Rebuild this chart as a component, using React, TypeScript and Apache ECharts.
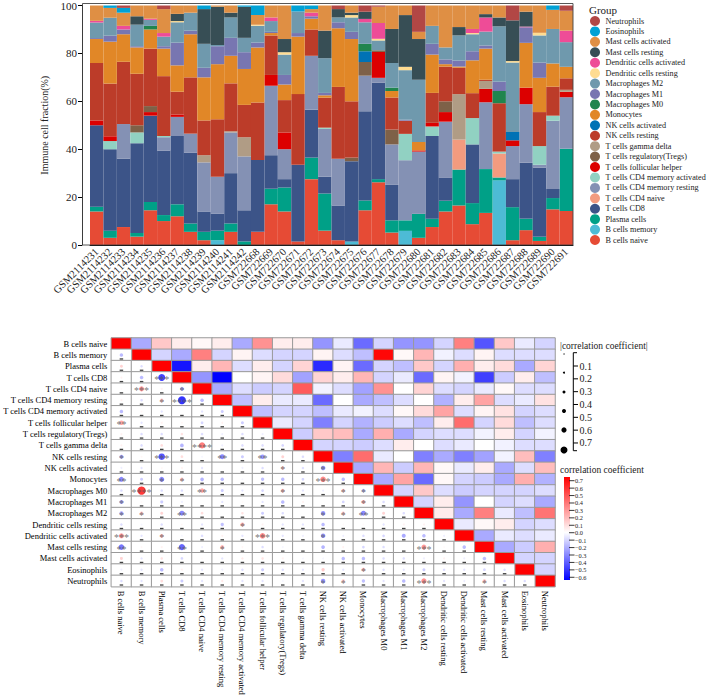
import React, { useEffect, useRef } from "react";
import * as echarts from "echarts";

const FONT = "'Liberation Serif', 'Times New Roman', serif";

const samples = [
  "GSM2114231", "GSM2114232", "GSM2114233", "GSM2114234", "GSM2114235", "GSM2114236",
  "GSM2114237", "GSM2114238", "GSM2114239", "GSM2114240", "GSM2114241", "GSM2114242",
  "GSM722668", "GSM722669", "GSM722670", "GSM722671", "GSM722672", "GSM722673",
  "GSM722674", "GSM722675", "GSM722676", "GSM722677", "GSM722678", "GSM722679",
  "GSM722680", "GSM722681", "GSM722682", "GSM722683", "GSM722684", "GSM722685",
  "GSM722686", "GSM722687", "GSM722688", "GSM722689", "GSM722690", "GSM722691",
];

const cellTypes = [
  "B cells naive", "B cells memory", "Plasma cells", "T cells CD8", "T cells CD4 naive",
  "T cells CD4 memory resting", "T cells CD4 memory activated", "T cells follicular helper",
  "T cells regulatory(Tregs)", "T cells gamma delta", "NK cells resting", "NK cells activated",
  "Monocytes", "Macrophages M0", "Macrophages M1", "Macrophages M2", "Dendritic cells resting",
  "Dendritic cells activated", "Mast cells resting", "Mast cells activated", "Eosinophils", "Neutrophils",
];

const cellColors = [
  "#E64B35", "#4DBBD5", "#00A087", "#3C5488", "#F39B7F", "#8491B4", "#91D1C2", "#DC0000",
  "#7E6148", "#B09C85", "#BC3C29", "#0072B5", "#E18727", "#20854E", "#7876B1", "#6F99AD",
  "#FFDC91", "#EE4C97", "#374E55", "#DF8F44", "#00A1D5", "#B24745",
];

// fractions (%) per sample, stack order bottom -> top
const bCellsNaive = [14, 3, 7.5, 3.5, 14.5, 10, 12, 5.5, 2, 0, 5.5, 0, 5.5, 17, 14, 1.5, 27.5, 6, 2, 0, 14.5, 26.2, 5.2, 0, 3, 7.5, 14, 16.5, 8.7, 13.4, 0, 2, 6.2, 1.7, 14.9, 14.2];
const bCellsMemory = [0, 0, 0, 0, 0, 0, 0, 0, 0, 2, 0, 0, 0, 0, 0, 0, 0, 0, 0, 1.5, 0, 0, 0, 5.9, 0, 0, 0, 0, 0, 0, 27, 0, 0, 0, 0, 0];
const plasmaCells = [2, 3, 0, 1.5, 3.5, 2.5, 5, 3.5, 3.5, 4, 3.5, 1.5, 0, 6.5, 10, 0, 9, 15.5, 0, 0, 4.1, 1.3, 5.1, 4.4, 10, 3.5, 4.5, 15, 8.8, 18.3, 1.2, 13.8, 4.8, 1.7, 4.7, 26];
const tCellsCD8 = [34, 34, 28.5, 37.5, 36, 27, 28.5, 29.5, 8.5, 7, 21, 13, 30, 14, 3.5, 32, 20, 7, 14.5, 33.5, 37.2, 40.4, 14.8, 0, 0, 34.5, 9.5, 0, 24.5, 0, 0, 11.7, 23.4, 29, 3.8, 0];
const tCellsCD4Naive = [0, 0, 0, 0, 0, 0, 0, 0, 0, 0, 0, 0, 0, 0, 0, 0, 0, 0, 0, 0, 0, 0, 0, 0, 0, 0, 0, 12.5, 0, 0, 10, 0, 0, 0, 0, 0];
const tCellsCD4MemRest = [0, 0, 14.5, 0, 0, 5.5, 8, 8, 20.5, 15.5, 17, 22.5, 0, 29, 12.5, 0, 22.5, 20, 19.5, 0, 14.9, 1.9, 16.9, 25.1, 26, 0, 23.5, 0, 0, 27.9, 0, 13.8, 24.4, 1.1, 28.5, 21.5];
const tCellsCD4MemAct = [0, 3.4, 0, 4.5, 0, 0.5, 0, 0, 0, 0, 0, 0, 0, 0, 0, 0, 0, 0.5, 0, 0, 0, 0, 0, 11, 0, 4, 0, 0, 11, 0, 0.8, 0, 0, 7.8, 2.1, 0];
const tCellsFollicular = [2, 2, 0, 0, 1.5, 0, 1, 0, 0, 0, 0, 0, 0, 4.5, 7, 0, 0, 0, 0, 0, 0, 10.8, 0, 0, 0.5, 1.5, 4, 0, 0, 5.6, 0, 2.4, 6.9, 0, 0, 2.3];
const tCellsTregs = [0, 0, 0, 3, 2.5, 0, 0, 0, 0, 0, 0, 0, 0, 0, 0, 0, 0, 0, 0, 1.5, 5.7, 0.7, 6.2, 0, 0, 0, 4.5, 0, 0, 0, 0, 0, 0, 0, 0, 0];
const tCellsGammaDelta = [0, 0, 0, 0, 0, 0, 0, 0, 3, 0, 0.5, 8, 0, 0, 0, 0, 0, 0, 0, 0, 0, 0, 0, 0, 0, 0, 0, 19, 0, 3.3, 0, 0, 0, 0, 0, 0.8];
const nkResting = [24, 22, 26, 21.5, 24, 25, 9.5, 23.5, 14.5, 24, 20, 13.5, 24, 16.5, 13.5, 29.5, 11, 12.5, 30, 23.5, 0, 0, 13.4, 5.5, 0, 12.5, 14.5, 11, 10.4, 0.5, 20.2, 0, 0, 14.2, 12.1, 4.8];
const nkActivated = [0, 0, 0, 0, 0, 0, 0, 0, 0, 0, 0, 0, 0, 0, 0, 0, 0, 0, 0, 0, 4.5, 0, 0, 0, 0, 0, 0, 0, 0, 0, 0, 3.5, 0, 0, 0, 0];
const monocytes = [10, 17.5, 11.5, 11, 8, 11.5, 11, 18, 18, 23, 11.5, 15, 23, 1, 6.5, 24, 4.5, 1, 24.5, 26, 0, 0, 2.7, 0, 3.5, 16, 1, 0.5, 13.7, 13, 0, 0, 18.7, 14.3, 9.7, 4.8];
const macrophagesM0 = [0, 0, 0, 0, 1.5, 0, 0, 0, 0, 0, 0, 0, 0, 0, 0, 0, 0, 0, 0, 0, 3.1, 0, 1.4, 0, 0, 0, 0, 0, 0, 0, 5.1, 0, 0, 0, 0, 0];
const macrophagesM1 = [0.4, 2.5, 2, 0.5, 0, 1, 9.5, 1.5, 4, 7.5, 7.5, 7, 2, 0.5, 4, 1.5, 1, 1, 2.5, 3, 0, 0, 0, 0.4, 0, 4.5, 2, 2.5, 3.8, 1.3, 3.9, 0, 6.5, 6.4, 0, 0];
const macrophagesM2 = [6.5, 7.5, 0, 9, 2.5, 4, 8.5, 7.5, 10, 0.5, 8.5, 6, 7, 4.5, 8.5, 9, 0, 14.5, 2, 6, 9, 4.1, 10.3, 20.7, 26, 7.5, 5, 10.5, 7.1, 5.8, 23.1, 29, 0, 11.3, 14.4, 10.3];
const dendriticResting = [0, 0, 0, 0, 0, 0, 0.5, 0, 0, 0, 0, 0, 0.5, 0, 1, 0, 0, 0, 0, 1, 0, 0.7, 0, 1.4, 0, 0, 0, 0, 0.5, 0, 0, 0.6, 0, 1.1, 0, 0];
const dendriticActivated = [0.7, 0, 1.5, 0, 0.5, 1.5, 0, 0, 0, 0, 0, 0, 0, 1.5, 0, 0, 1.5, 0, 0, 0, 1.4, 6.6, 0, 0, 0, 0, 0, 0, 1.7, 5.9, 0, 0, 0.3, 0, 0, 4.8];
const mastResting = [0, 0, 0, 3.5, 0, 0, 3, 0, 14.5, 16, 2, 13, 0, 0, 5.5, 0, 0, 11.5, 3.5, 1, 3, 0, 14.2, 21.6, 17, 0, 0, 3.5, 0, 1.4, 3.7, 17, 6.2, 0, 0, 0];
const mastActivated = [6.4, 4.1, 5.5, 4.5, 5.5, 10, 3.5, 3, 0, 0.5, 3, 0, 4, 5, 14, 0, 1.5, 10.5, 0, 3, 0, 6.8, 9.8, 4, 3, 8.5, 17.5, 9, 9.8, 3.6, 5, 0, 2.6, 11.4, 8, 8.3];
const eosinophils = [0, 1, 2, 0, 0, 0, 0, 0, 1.5, 0, 0, 0.5, 4, 0, 0, 2.5, 1.5, 0, 0, 0, 0, 0, 0, 0, 0, 0, 0, 0, 0, 0, 0, 0, 0, 0, 1.8, 0];
const neutrophils = [0, 0, 1, 0, 0, 1.5, 0, 0, 0, 0, 0, 0, 0, 0, 0, 0, 0, 0, 1.5, 0, 2.6, 0.5, 0, 0, 11, 0, 0, 0, 0, 0, 0, 6.2, 0, 0, 0, 2.2];

const fractions = [
  bCellsNaive, bCellsMemory, plasmaCells, tCellsCD8, tCellsCD4Naive, tCellsCD4MemRest,
  tCellsCD4MemAct, tCellsFollicular, tCellsTregs, tCellsGammaDelta, nkResting, nkActivated,
  monocytes, macrophagesM0, macrophagesM1, macrophagesM2, dendriticResting, dendriticActivated,
  mastResting, mastActivated, eosinophils, neutrophils,
];

// correlation, upper triangle: row i holds columns i+1 .. 21
const corrUpperRows = [
  [-0.2, 0.15, 0.05, 0.02, 0.05, -0.2, 0.3, 0.05, 0.05, -0.25, -0.05, -0.35, -0.1, -0.25, -0.25, -0.1, 0.35, -0.4, 0.15, -0.05, -0.1],
  [-0.1, -0.2, 0.35, -0.1, 0.03, -0.08, -0.1, -0.1, 0.03, -0.08, -0.15, 0.68, 0.02, 0.2, -0.03, -0.08, 0.03, -0.08, -0.08, -0.08],
  [-0.55, 0.05, 0.2, -0.08, 0.05, -0.1, 0.12, -0.5, 0.03, -0.35, -0.1, -0.15, 0.15, -0.1, 0.22, 0.05, 0.1, -0.2, 0.12],
  [-0.25, -0.65, 0, 0.03, 0.1, -0.22, 0.12, 0.05, 0.2, -0.1, -0.05, -0.35, 0.03, -0.03, -0.45, -0.12, 0.05, -0.15],
  [-0.2, -0.08, -0.12, -0.1, 0.45, -0.03, -0.08, -0.22, 0.3, 0, 0.12, -0.08, -0.1, -0.05, 0.02, -0.08, -0.08],
  [-0.15, 0.05, -0.05, -0.05, -0.35, 0, -0.2, -0.15, -0.08, 0, -0.18, 0.05, 0.25, -0.08, -0.05, 0.08],
  [-0.15, -0.1, -0.1, -0.15, -0.05, -0.03, -0.08, 0.02, 0.1, 0.25, -0.08, 0.03, 0.08, -0.1, -0.08],
  [-0.05, -0.1, -0.3, -0.1, -0.18, -0.12, -0.08, -0.15, 0.05, 0.4, -0.1, 0.1, -0.15, -0.08],
  [-0.12, 0.15, 0.18, -0.2, 0.22, -0.2, -0.1, -0.08, -0.08, -0.03, 0.05, -0.1, -0.03],
  [-0.1, -0.1, -0.12, -0.08, 0.05, 0, -0.08, -0.05, 0, -0.03, -0.08, -0.08],
  [-0.3, 0.4, -0.05, 0, -0.3, -0.2, -0.3, -0.22, -0.03, 0.18, -0.3],
  [-0.2, 0.2, -0.12, 0.2, 0.02, -0.05, 0.05, -0.2, -0.08, 0.18],
  [-0.2, 0.25, -0.35, 0.02, -0.1, -0.12, -0.2, 0.22, -0.18],
  [-0.1, 0.15, -0.08, -0.12, -0.1, -0.1, -0.1, -0.08],
  [-0.1, 0.05, -0.25, 0, -0.1, -0.08, -0.2],
  [0.05, -0.2, 0.35, -0.05, -0.15, 0.38],
  [-0.05, 0.02, 0.05, -0.1, -0.08],
  [-0.2, -0.05, -0.08, -0.05],
  [-0.2, -0.12, 0.22],
  [-0.1, -0.1],
  [-0.1],
];

// significance marks in the lower triangle: [row, column, stars]
const significance: [number, number, string][] = [
  [3, 2, "***"], [4, 1, "***"], [4, 3, "*"], [5, 2, "*"], [5, 3, "****"], [7, 0, "**"],
  [9, 4, "****"], [10, 0, "*"], [10, 2, "***"], [10, 5, "**"], [10, 7, "**"], [11, 8, "*"],
  [11, 10, "*"], [12, 0, "**"], [12, 2, "*"], [12, 3, "*"], [12, 10, "***"], [13, 1, "****"],
  [13, 4, "**"], [13, 8, "*"], [13, 11, "*"], [13, 12, "*"], [14, 0, "*"], [14, 12, "*"],
  [15, 0, "*"], [15, 1, "*"], [15, 3, "**"], [15, 10, "*"], [15, 11, "*"], [15, 12, "**"],
  [16, 6, "*"], [17, 0, "***"], [17, 2, "*"], [17, 7, "***"], [17, 10, "*"], [18, 0, "**"],
  [18, 3, "**"], [18, 5, "*"], [18, 15, "***"], [20, 12, "*"], [21, 10, "*"], [21, 11, "*"],
  [21, 15, "***"], [21, 18, "*"],
];

const colorTicks = [0.7, 0.6, 0.5, 0.4, 0.3, 0.2, 0.1, 0, -0.1, -0.2, -0.3, -0.4, -0.5, -0.6];
const sizeTicks = [0.1, 0.2, 0.3, 0.4, 0.5, 0.6, 0.7];

const CMIN = -0.6;
const CMAX = 0.7;

function colorFor(v: number): string {
  const c = (a: number) => Math.round(a);
  if (v <= 0) {
    const t = Math.min(1, v / CMIN);
    return `rgb(${c(255 * (1 - t))},${c(255 * (1 - t))},255)`;
  }
  const t = Math.min(1, v / CMAX);
  return `rgb(255,${c(255 * (1 - t))},${c(255 * (1 - t))})`;
}

export default function App() {
  const ref = useRef<HTMLDivElement>(null);
  useEffect(() => {
    const chart = echarts.init(ref.current!, null, { renderer: "svg" });
    const n = cellTypes.length;
    const corr: number[][] = [];
    for (let i = 0; i < n; i++) {
      corr.push(new Array(n).fill(0));
      corr[i][i] = 1;
    }
    corrUpperRows.forEach((row, i) => {
      row.forEach((v, k) => {
        const j = i + 1 + k;
        corr[i][j] = v;
        corr[j][i] = v;
      });
    });
    const starMap: Record<string, string> = {};
    significance.forEach(([r, c, s]) => (starMap[r + "_" + c] = s));

    const upper: any[] = [];
    const lower: any[] = [];
    const circles: any[] = [];
    const dashes: any[] = [];
    for (let i = 0; i < n; i++) {
      for (let j = 0; j < n; j++) {
        if (j >= i) upper.push([j, i, corr[i][j]]);
        else {
          lower.push([j, i, 0]);
          const st = starMap[i + "_" + j] || "";
          circles.push({ value: [j, i, corr[i][j], st] });
          if (!st) dashes.push([j, i]);
        }
      }
    }

    const stops = colorTicks.slice().reverse().map((v) => colorFor(v));

    const barSeries = cellTypes.map((name, k) => ({
      type: "bar",
      name,
      stack: "frac",
      xAxisIndex: 0,
      yAxisIndex: 0,
      data: fractions[k],
      barWidth: "100%",
      itemStyle: { color: cellColors[k] },
    }));

    const graphics: any[] = [];
    graphics.push({
      type: "rect",
      shape: { x: 82.5, y: 3.5, width: 490.5, height: 241.5 },
      style: { fill: "none", stroke: "#444", lineWidth: 0.9 },
      z: 100,
      silent: true,
    });
    graphics.push({
      type: "text",
      x: 589,
      y: 10,
      style: { text: "Group", fontSize: 11, fontFamily: FONT, fill: "#222", verticalAlign: "middle" },
    });
    graphics.push({
      type: "text",
      x: 560,
      y: 345.5,
      style: { text: "|correlation coefficient|", fontSize: 9.5, fontFamily: FONT, fill: "#222", verticalAlign: "middle" },
    });
    const sizeCircleY = [354, 372.7, 392, 411, 430, 450];
    const sizeCircleR = [0.6, 1, 1.5, 2, 2.6, 3.5];
    sizeCircleY.forEach((y, k) =>
      graphics.push({ type: "circle", shape: { cx: 564, cy: y, r: sizeCircleR[k] }, style: { fill: "#000" } })
    );
    graphics.push({ type: "polyline", shape: { points: [[577, 352.7], [573.3, 352.7], [573.3, 450.7], [577, 450.7]] }, style: { stroke: "#000", lineWidth: 1, fill: null } });
    sizeTicks.forEach((v, k) => {
      const y = 366 + k * 12.83;
      graphics.push({ type: "line", shape: { x1: 573.3, y1: y, x2: 578, y2: y }, style: { stroke: "#000", lineWidth: 1 } });
      graphics.push({ type: "text", x: 579.5, y, style: { text: v.toFixed(1), fontSize: 10, fontFamily: FONT, fill: "#222", verticalAlign: "middle" } });
    });
    graphics.push({
      type: "text",
      x: 560,
      y: 470.3,
      style: { text: "correlation coefficient", fontSize: 9.5, fontFamily: FONT, fill: "#222", verticalAlign: "middle" },
    });
    graphics.push({
      type: "rect",
      shape: { x: 564, y: 477, width: 6, height: 103 },
      style: {
        fill: new echarts.graphic.LinearGradient(0, 0, 0, 1,
          colorTicks.map((v) => ({ offset: (CMAX - v) / (CMAX - CMIN), color: colorFor(v) }))),
      },
    });
    colorTicks.forEach((v, k) => {
      const y = 480.7 + k * 7.43;
      graphics.push({ type: "line", shape: { x1: 569, y1: y, x2: 574.5, y2: y }, style: { stroke: "#222", lineWidth: 0.9 } });
      const txt = v < 0 ? "\u2212" + Math.abs(v).toFixed(1) : v.toFixed(1);
      graphics.push({
        type: "text",
        x: 575,
        y,
        style: { text: txt, fontSize: 6.3, lineHeight: 7, fontFamily: FONT, fill: "#222", verticalAlign: "middle" },
      });
    });

    const nb = cellTypes.length;
    const option: any = {
      animation: false,
      backgroundColor: "#fff",
      textStyle: { fontFamily: FONT },
      legend: {
        data: cellTypes.slice().reverse(),
        orient: "vertical",
        left: 590,
        top: 16,
        itemWidth: 11,
        itemHeight: 10,
        itemGap: 0.43,
        icon: "circle",
        padding: 0,
        selectedMode: false,
        textStyle: { fontSize: 8.2, fontFamily: FONT, color: "#222", lineHeight: 10 },
      },
      visualMap: [
        {
          type: "continuous",
          show: false,
          min: CMIN,
          max: CMAX,
          dimension: 2,
          seriesIndex: [nb, nb + 2],
          inRange: { color: stops },
        },
        {
          type: "continuous",
          show: false,
          min: -1,
          max: 1,
          dimension: 2,
          seriesIndex: [nb + 1],
          inRange: { color: ["#ffffff", "#ffffff"] },
        },
      ],
      grid: [
        { left: 90, top: 3, width: 483, height: 242 },
        { left: 107, top: 338, width: 448, height: 250 },
      ],
      xAxis: [
        {
          type: "category",
          gridIndex: 0,
          data: samples,
          axisLine: { lineStyle: { color: "#000", width: 1 } },
          axisTick: { alignWithLabel: true, length: 4, lineStyle: { color: "#000" } },
          axisLabel: { rotate: 45, interval: 0, fontSize: 10.5, color: "#222", margin: 5, fontFamily: FONT },
        },
        {
          type: "category",
          gridIndex: 1,
          data: cellTypes,
          axisLine: { show: false },
          axisTick: { show: false },
          axisLabel: { rotate: -90, interval: 0, fontSize: 8.5, color: "#000", margin: 4, fontFamily: FONT },
        },
      ],
      yAxis: [
        {
          type: "value",
          gridIndex: 0,
          min: 0,
          max: 100,
          interval: 20,
          offset: 8,
          name: "Immune cell fraction(%)",
          nameLocation: "middle",
          nameGap: 26,
          nameTextStyle: { fontSize: 10, color: "#222", fontFamily: FONT },
          axisLine: { show: true, lineStyle: { color: "#000", width: 1 } },
          axisTick: { show: true, length: 4, lineStyle: { color: "#000" } },
          axisLabel: { fontSize: 11, color: "#222", margin: 5, fontFamily: FONT },
          splitLine: { show: false },
        },
        {
          type: "category",
          gridIndex: 1,
          data: cellTypes,
          inverse: true,
          axisLine: { show: false },
          axisTick: { show: false },
          axisLabel: { interval: 0, fontSize: 8.5, color: "#000", margin: 4, fontFamily: FONT },
        },
      ],
      series: [
        ...barSeries,
        {
          type: "heatmap",
          xAxisIndex: 1,
          yAxisIndex: 1,
          data: upper,
          itemStyle: { borderColor: "#999", borderWidth: 1 },
          emphasis: { disabled: true },
        },
        {
          type: "heatmap",
          xAxisIndex: 1,
          yAxisIndex: 1,
          data: lower,
          itemStyle: { borderColor: "#999", borderWidth: 1 },
          emphasis: { disabled: true },
        },
        {
          type: "scatter",
          xAxisIndex: 1,
          yAxisIndex: 1,
          data: circles,
          z: 3,
          symbol: "circle",
          symbolSize: (v: any) => 1.5 + Math.abs(v[2]) * 10,
          itemStyle: { opacity: 0.8 },
          label: {
            show: true,
            position: "inside",
            formatter: (p: any) => p.value[3],
            fontSize: 10,
            color: "#555",
            offset: [0, 2],
            fontFamily: FONT,
          },
        },
        {
          type: "scatter",
          xAxisIndex: 1,
          yAxisIndex: 1,
          data: dashes,
          z: 4,
          symbol: "rect",
          symbolSize: [3.5, 1.3],
          symbolOffset: [0, 4],
          itemStyle: { color: "#111" },
          silent: true,
        },
      ],
      graphic: graphics,
    };
    chart.setOption(option);
    return () => chart.dispose();
  }, []);
  return (
    <div
      ref={ref}
      style={{ position: "absolute", left: 0, top: 0, width: 709, height: 698, background: "#fff" }}
    />
  );
}
